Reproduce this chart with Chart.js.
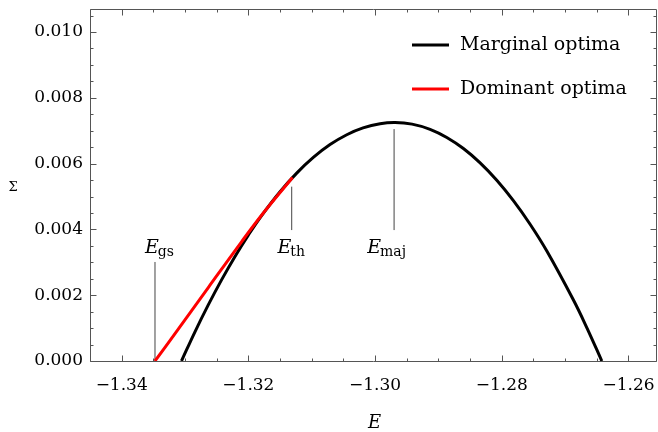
<!DOCTYPE html>
<html><head><meta charset="utf-8">
<script src="https://cdn.jsdelivr.net/npm/chart.js@4.4.1/dist/chart.umd.min.js"></script>
<style>html,body{margin:0;padding:0;background:#fff;overflow:hidden}#wrap{width:658px;height:432px}</style>
</head><body><div id="wrap"><canvas id="c" width="658" height="432"></canvas></div>
<script>
// ---- data ----
const marginalE = [-1.33056, -1.32843, -1.32633, -1.32421, -1.32211, -1.32001, -1.31785, -1.31500, -1.31237, -1.30975, -1.30711, -1.30447, -1.30190, -1.29921, -1.29684, -1.29416, -1.29132, -1.28868, -1.28606, -1.28342, -1.28079, -1.27817, -1.27553, -1.27289, -1.26869, -1.26653, -1.26421];
const marginalSigma = [0, 0.000888, 0.001705, 0.002474, 0.003179, 0.003827, 0.004436, 0.005146, 0.005711, 0.006188, 0.006578, 0.006878, 0.007085, 0.007213, 0.007249, 0.007200, 0.007043, 0.006796, 0.006459, 0.006024, 0.005495, 0.004875, 0.004158, 0.003343, 0.001854, 0.000994, 0];
const dominantE = [-1.33474, -1.33158, -1.32633, -1.32105, -1.31764, -1.31303];
const dominantSigma = [0, 0.000833, 0.002234, 0.003632, 0.004498, 0.005578];
const seriesNames = ['Marginal optima', 'Dominant optima'];
const markerNames = ['gs', 'th', 'maj'];
const markerE = [-1.33474, -1.31316, -1.29700];
const markerSigmaLow = [0, 0.00398, 0.00398];
const markerSigmaHigh = [0.00301, 0.00530, 0.00705];
const xTickValues = [-1.34, -1.32, -1.30, -1.28, -1.26];
const yTickValues = [0, 0.002, 0.004, 0.006, 0.008, 0.010];
const xTitle = 'E';
const yTitle = 'Σ';

// ---- styles ----
const SERIF = "'DejaVu Serif', serif";
const FRAME = '#555';
const markerLabelDx = [5, 0, -7];
const markerLabelBaseline = 253;

const toPts = (xs, ys) => xs.map((v, i) => ({x: v, y: ys[i]}));
const datasets = [
  {label: seriesNames[1], data: toPts(dominantE, dominantSigma), borderColor: '#ff0000', borderWidth: 3, tension: 0.4, pointRadius: 0, showLine: true, order: 0},
  {label: seriesNames[0], data: toPts(marginalE, marginalSigma), borderColor: '#000000', borderWidth: 3, tension: 0.4, pointRadius: 0, showLine: true, order: 1}
];
markerE.forEach((e, i) => {
  datasets.push({label: 'marker-' + markerNames[i], data: [{x: e, y: markerSigmaLow[i]}, {x: e, y: markerSigmaHigh[i]}],
    borderColor: '#444', borderWidth: 1, pointRadius: 0, showLine: true, order: 2});
});

const noPad = s => { s.paddingTop = 0; s.paddingBottom = 0; s.paddingLeft = 0; s.paddingRight = 0; };

const framePlugin = {
  id: 'frame',
  afterDatasetsDraw(chart) {
    const {ctx, chartArea: a, scales: {x, y}} = chart;
    ctx.save();
    ctx.strokeStyle = FRAME; ctx.lineWidth = 1;
    const L = Math.round(a.left) + 0.5, R = Math.round(a.right) - 0.5, T = Math.round(a.top) + 0.5, B = Math.round(a.bottom) + 0.5;
    ctx.beginPath(); ctx.rect(L, T, R - L, B - T); ctx.stroke();
    ctx.beginPath();
    for (let i = 0; i <= 18; i++) {
      const v = -1.345 + i * 0.005;
      const px = Math.round(x.getPixelForValue(v)) + 0.5;
      if (px < L || px > R) continue;
      const major = xTickValues.some(t => Math.abs(t - v) < 1e-6);
      const len = major ? 6 : 3;
      ctx.moveTo(px, B); ctx.lineTo(px, B - len);
      ctx.moveTo(px, T); ctx.lineTo(px, T + len);
    }
    for (let i = 0; i <= 21; i++) {
      const v = i * 0.0005;
      const py = Math.round(y.getPixelForValue(v)) + 0.5;
      if (py < T || py > B) continue;
      const major = yTickValues.some(t => Math.abs(t - v) < 1e-9);
      const len = major ? 6 : 3;
      ctx.moveTo(L, py); ctx.lineTo(L + len, py);
      ctx.moveTo(R, py); ctx.lineTo(R - len, py);
    }
    ctx.stroke();

    // marker labels
    ctx.fillStyle = '#000';
    ctx.textBaseline = 'alphabetic';
    markerE.forEach((e, i) => {
      const px = x.getPixelForValue(e) + markerLabelDx[i];
      ctx.font = 'italic 19px ' + SERIF;
      const wE = ctx.measureText('E').width;
      ctx.font = '14px ' + SERIF;
      const wS = ctx.measureText(markerNames[i]).width;
      const left = px - (wE + wS) / 2;
      ctx.font = 'italic 19px ' + SERIF;
      ctx.fillText('E', left, markerLabelBaseline);
      ctx.font = '14px ' + SERIF;
      ctx.fillText(markerNames[i], left + wE - 1, markerLabelBaseline + 3);
    });

    // legend
    const legendItems = [{name: seriesNames[0], color: '#000'}, {name: seriesNames[1], color: '#ff0000'}];
    ctx.font = '19px ' + SERIF;
    ctx.textBaseline = 'middle';
    legendItems.forEach((it, i) => {
      const ly = 45 + i * 44;
      ctx.strokeStyle = it.color; ctx.lineWidth = 3;
      ctx.beginPath(); ctx.moveTo(412, ly); ctx.lineTo(449, ly); ctx.stroke();
      ctx.fillText(it.name, 460, ly);
    });

    // axis titles
    ctx.textAlign = 'center';
    ctx.font = 'italic 18px ' + SERIF;
    ctx.fillText(xTitle, (a.left + a.right) / 2 + 1, 423);
    ctx.font = '13px ' + SERIF;
    ctx.fillText(yTitle, 13, 188);
    ctx.restore();
  }
};

new Chart(document.getElementById('c'), {
  type: 'scatter',
  data: {datasets},
  options: {
    responsive: false, animation: false,
    layout: {padding: {top: 9, right: 1, left: 0, bottom: 0}},
    plugins: {legend: {display: false}, tooltip: {enabled: false}},
    scales: {
      x: {
        type: 'linear', min: -1.345, max: -1.2555,
        grid: {display: false, drawTicks: false}, border: {display: false},
        afterBuildTicks: s => { s.ticks = xTickValues.map(v => ({value: v})); },
        afterFit: s => { s.height = 71; noPad(s); },
        ticks: {autoSkip: false, maxRotation: 0, padding: 14, color: '#000', font: {family: SERIF, size: 17},
          callback: v => '\u2212' + Math.abs(v).toFixed(2)}
      },
      y: {
        type: 'linear', min: 0, max: 0.0107,
        grid: {display: false, drawTicks: false}, border: {display: false},
        afterBuildTicks: s => { s.ticks = yTickValues.map(v => ({value: v})); },
        afterFit: s => { s.width = 90; noPad(s); },
        ticks: {autoSkip: false, padding: 7, color: '#000', font: {family: SERIF, size: 17},
          callback: v => v.toFixed(3)}
      }
    }
  },
  plugins: [framePlugin]
});
</script>
</body></html>
